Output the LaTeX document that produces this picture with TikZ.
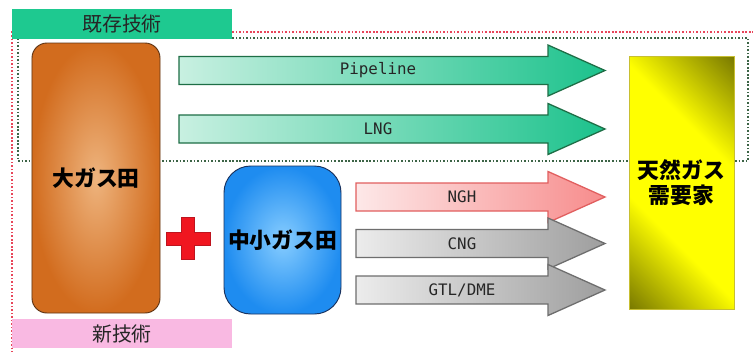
\documentclass[tikz,border=0pt]{standalone}
\usepackage{fontspec}
\newfontfamily\jpfont{Noto Sans CJK JP}
\newfontfamily\flowfont{DejaVu Sans Mono}
\definecolor{mintgreen}{RGB}{30,201,144}
\definecolor{lightpink}{RGB}{249,185,226}
\definecolor{dotred}{RGB}{232,70,90}
\definecolor{dotgreen}{RGB}{60,100,70}
\definecolor{fieldorange}{RGB}{210,108,30}
\definecolor{fieldlight}{RGB}{238,180,126}
\definecolor{fieldbrown}{RGB}{95,52,20}
\definecolor{fieldblue}{RGB}{30,140,240}
\definecolor{fieldsky}{RGB}{135,205,255}
\definecolor{blueedge}{RGB}{25,50,95}
\definecolor{demandolive}{RGB}{105,105,0}
\definecolor{plusred}{RGB}{240,22,32}
\definecolor{plusedge}{RGB}{190,20,30}
\definecolor{greenL}{RGB}{200,240,225}
\definecolor{greenR}{RGB}{28,194,140}
\definecolor{greenD}{RGB}{30,110,70}
\definecolor{pinkL}{RGB}{253,232,232}
\definecolor{pinkR}{RGB}{247,140,140}
\definecolor{pinkD}{RGB}{225,95,95}
\definecolor{grayL}{RGB}{236,236,236}
\definecolor{grayR}{RGB}{158,158,158}
\definecolor{grayD}{RGB}{110,110,110}
\pgfdeclarehorizontalshading{demandshade}{100bp}{color(0bp)=(demandolive); color(12bp)=(demandolive); color(37bp)=(yellow); color(63bp)=(yellow); color(88bp)=(demandolive); color(100bp)=(demandolive)}

\begin{document}
\begin{tikzpicture}[x=0.03cm,y=-0.03cm,
 tag/.style={inner sep=0pt,minimum width=6.6cm,minimum height=0.9cm,font=\jpfont\fontsize{17}{19}\selectfont,text=black!85},
 field/.style={draw,line width=0.8pt,align=center,inner sep=0pt,font=\jpfont\bfseries\fontsize{18.6}{21}\selectfont},
 flow/.style={line width=1.1pt},
 flowtxt/.style={font=\flowfont\fontsize{13.5}{15}\selectfont,text=black!85},
 dots/.style={line width=1.4pt,dash pattern=on 1.4pt off 1.6pt}]
\useasboundingbox[fill=white] (0,0) rectangle (753,351);
% frames behind everything
\draw[dots,draw=dotred] (12,360) |- (760,32);
\draw[dots,draw=dotgreen] (18,38) rectangle (748,161);
\node[tag,fill=mintgreen] (old) at (122,24) {既存技術};
\node[tag,fill=lightpink,minimum height=0.87cm] (new) at (122,333.5) {新技術};
% gas fields and demand
\node[field,draw=fieldbrown,rounded corners=0.45cm,minimum width=3.84cm,minimum height=8.1cm,inner color=fieldlight,outer color=fieldorange] (large) at (96,178) {大ガス田};
\node[field,draw=blueedge,rounded corners=0.8cm,minimum width=3.51cm,minimum height=4.44cm,inner color=fieldsky,outer color=fieldblue] (small) at (282.5,240) {中小ガス田};
\node[field,draw=yellow!75!black,line width=0.4pt,shading=demandshade,shading angle=45,minimum width=3.15cm,minimum height=7.59cm] (demand) at (681.5,182.5) {天然ガス\\需要家};
\filldraw[draw=plusedge,fill=plusred,line width=0.4pt] (181.5,217) -- (194.5,217) -- (194.5,232.5) -- (210,232.5) -- (210,245.5) -- (194.5,245.5) -- (194.5,259) -- (181.5,259) -- (181.5,245.5) -- (166,245.5) -- (166,232.5) -- (181.5,232.5) -- cycle;
% transport arrows
\foreach \nm/\xs/\yc/\lx/\lc/\rc/\dc/\txt in {pipe/179/70.5/378/greenL/greenR/greenD/Pipeline,
  lng/179/129/378/greenL/greenR/greenD/LNG,
  ngh/356/197/462/pinkL/pinkR/pinkD/NGH,
  cng/356/243.5/462/grayL/grayR/grayD/CNG,
  gtl/356/290/462/grayL/grayR/grayD/{GTL/DME}}
{
 \path[flow,draw=\dc,left color=\lc,right color=\rc] (\xs,\yc-14) -- (548,\yc-14) -- (548,\yc-25.5) -- (605,\yc) -- (548,\yc+25.5) -- (548,\yc+14) -- (\xs,\yc+14) -- cycle;
 \node[flowtxt] (\nm) at (\lx,\yc) {\txt};
}
\end{tikzpicture}
\end{document}
